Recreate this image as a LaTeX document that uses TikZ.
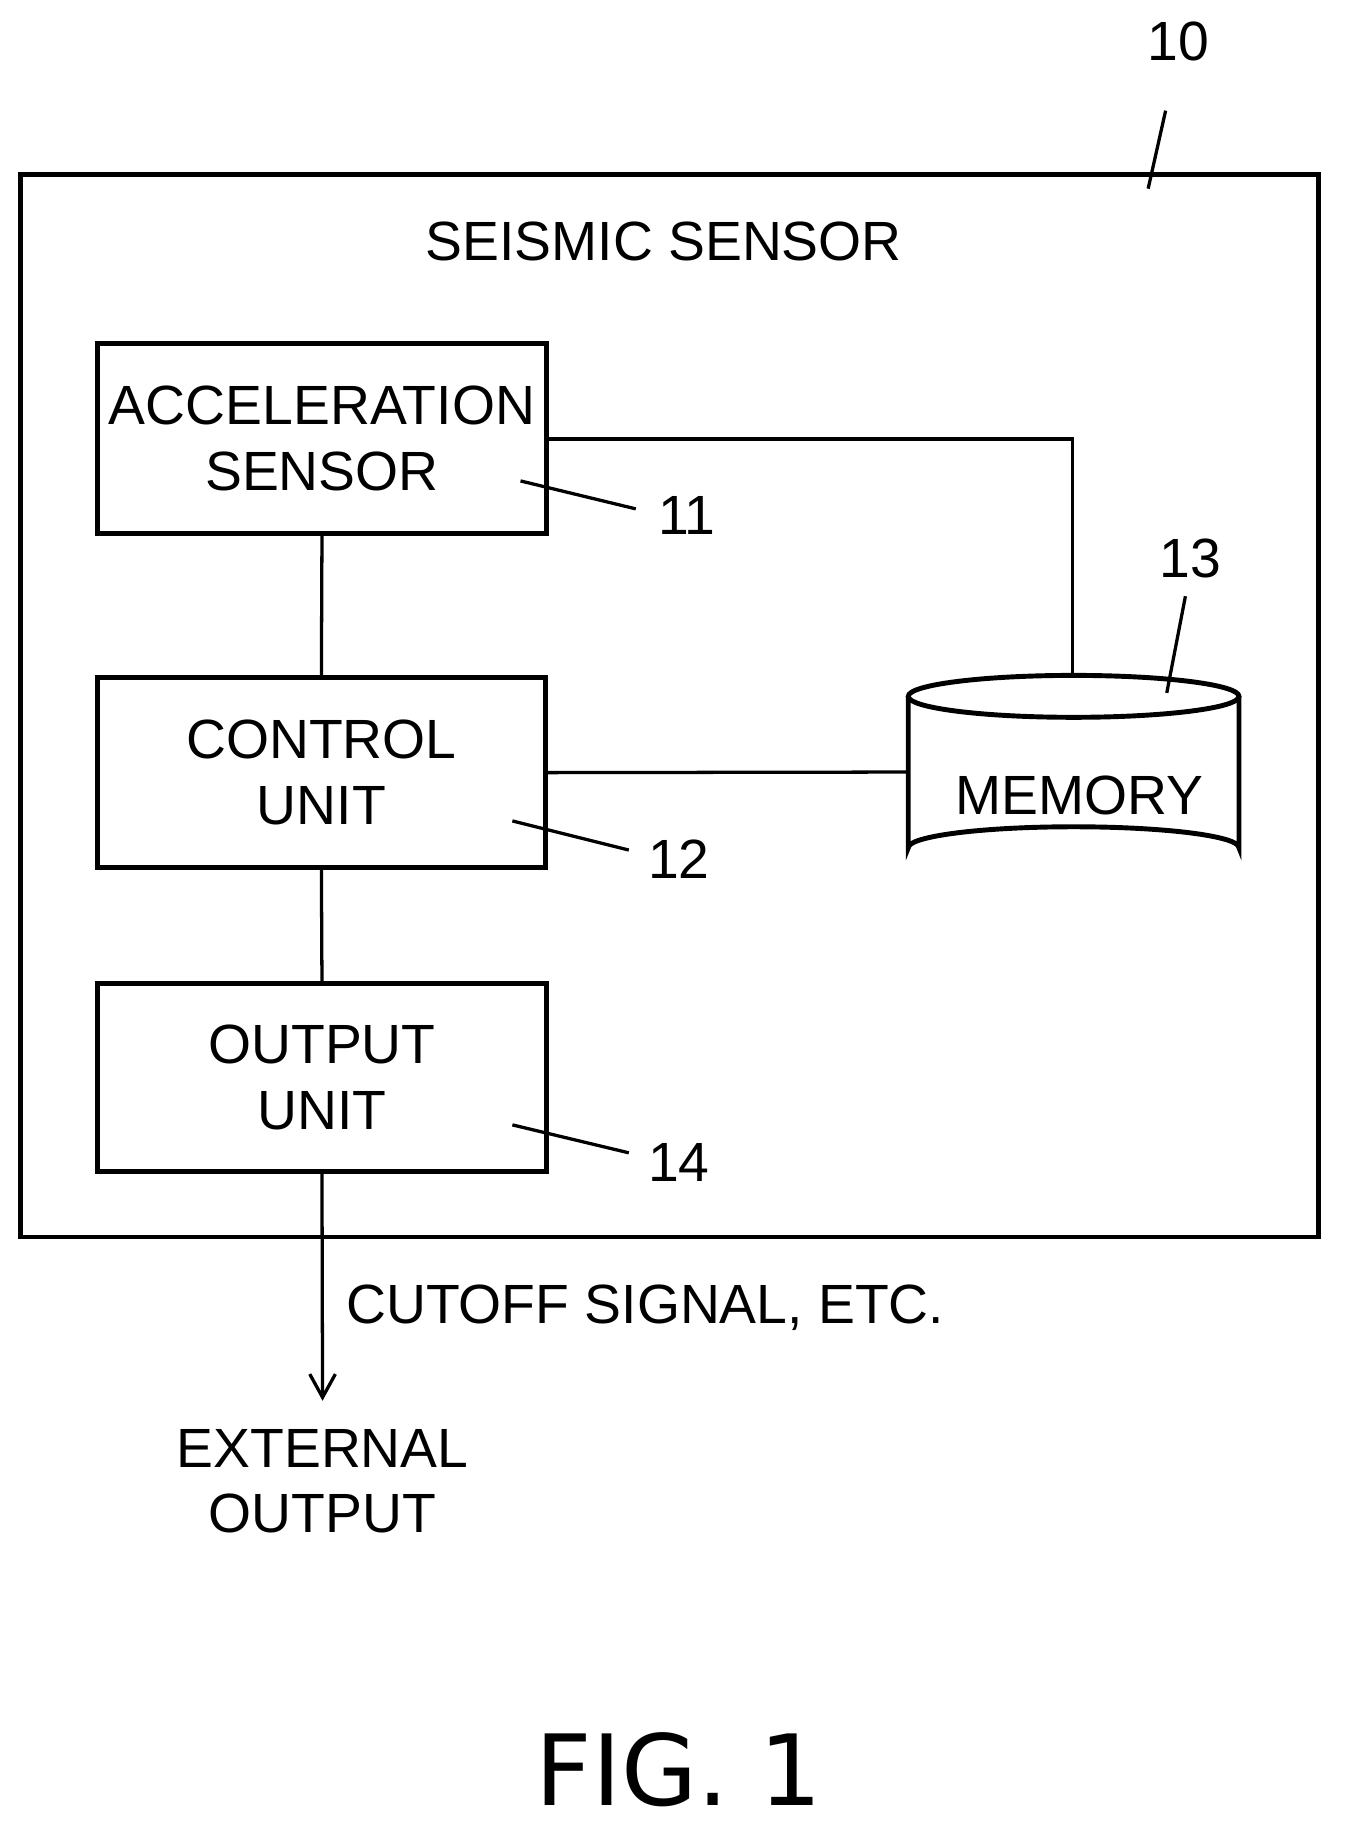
\documentclass[tikz,border=0pt]{standalone}
\usepackage{fontspec}
\setmainfont{Liberation Sans}
\newfontfamily\figfont{DejaVu Sans}
\begin{document}
\begin{tikzpicture}[x=0.01cm,y=-0.01cm,
  box/.style={draw,line width=1.2pt,inner sep=0pt},
  lbl/.style={font=\fontsize{13.5}{16}\selectfont,align=center},
  ln/.style={line width=0.8pt}]
\useasboundingbox (0,0) rectangle (1160,1581);
\node[box,minimum width=11.14cm,minimum height=9.12cm] (outer) at (575,606) {};
\node[lbl] (n10) at (1012,36) {10};
\coordinate (c10) at (986,162);
\draw[ln] (1001,95) -- (c10);
\node[lbl] (title) at (570,207) {SEISMIC SENSOR};
\node[box,lbl,minimum width=3.85cm,minimum height=1.63cm] (acc) at (276.5,376.5) {ACCELERATION\\SENSOR};
\node[box,lbl,minimum width=3.84cm,minimum height=1.63cm] (ctl) at (276,663.5) {CONTROL\\UNIT};
\node[box,lbl,minimum width=3.85cm,minimum height=1.61cm] (out) at (276.5,925.5) {OUTPUT\\UNIT};
% memory cylinder
\node[minimum width=2.84cm,minimum height=1.7cm,inner sep=0pt] (mem) at (922,663) {};
\draw[line width=1.2pt,fill=white] (780,598) -- (780,728) arc[start angle=180,end angle=360,x radius=142,y radius=18] -- (1064,598);
\draw[line width=1.2pt] (922,598) ellipse[x radius=142,y radius=18];
\node[lbl] (memt) at (927,683) {MEMORY};
\node[lbl] (n11) at (590,443) {11};
\node[lbl] (n12) at (583,738) {12};
\node[lbl] (n13) at (1022,480) {13};
\node[lbl] (n14) at (583,998) {14};
\coordinate (a11) at (447,413); \coordinate (a12) at (440,705);
\coordinate (a13) at (1002,595); \coordinate (a14) at (440,966);
\draw[ln] (a11) -- (546,437);
\draw[ln] (a12) -- (540,730);
\draw[ln] (a14) -- (540,990);
\draw[ln] (a13) -- (1018,512);
\draw[ln] (acc.east |- 0,377) -- (921,377) -- (921,580);
\draw[ln] (acc.south) -- (ctl.north);
\draw[ln] (ctl.south) -- (out.north);
\draw[ln] (ctl.east) -- (780,663);
\coordinate (ext) at (277,1200);
\draw[ln] (out.south) -- (ext);
\draw[ln] (266,1180) -- (ext) -- (288,1180);
\node[lbl,anchor=west] (cut) at (285,1123) {CUTOFF SIGNAL, ETC.};
\node[lbl] (extout) at (277,1272) {EXTERNAL\\OUTPUT};
\node[font=\figfont\fontsize{24}{28}\selectfont] (fig) at (583,1520) {FIG.\ 1};
\end{tikzpicture}
\end{document}
